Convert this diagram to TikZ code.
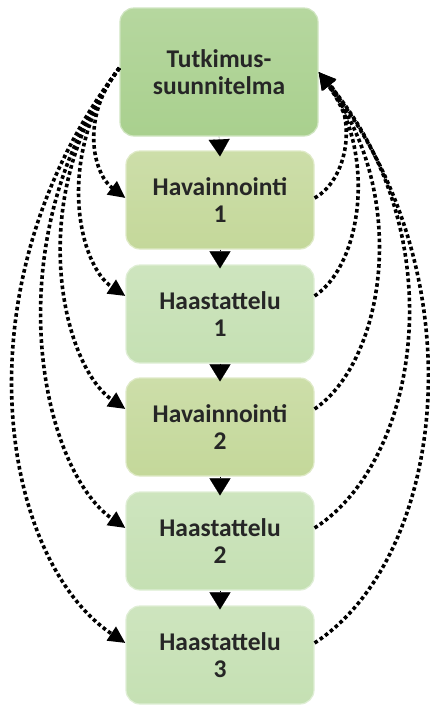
\documentclass[tikz,border=0pt]{standalone}
\usepackage{fontspec}
\setmainfont{Carlito}
\usetikzlibrary{arrows.meta,calc}

\definecolor{plangreen}{HTML}{A9D08E}
\definecolor{obsgreen}{HTML}{C4D89A}
\definecolor{intgreen}{HTML}{C5E0B3}

\begin{document}
\begin{tikzpicture}[x=1pt,y=1pt,
  stagebox/.style={rounded corners=14pt, minimum width=188pt, minimum height=98pt,
    inner sep=0pt, align=center, text=black!85,
    font=\bfseries\fontsize{25.5}{27}\selectfont,
    top color=#1!85!white, bottom color=#1, draw=#1!55!white, line width=1.2pt},
  loop/.style={line width=3.6pt, dash pattern=on 3.6pt off 2.8pt, black,
    -{Triangle[length=17pt,width=16pt]}},
  down/.style={-{Triangle[length=17pt,width=21pt]}, line width=0.1pt, black}]

\useasboundingbox (0,0) rectangle (430,-705);

% research plan and the five field-work stages
\node[stagebox=plangreen, minimum width=198pt, minimum height=128pt] (T) at (219,-72) {Tutkimus-\\suunnitelma};
\node[stagebox=obsgreen] (H1)  at (220,-200) {Havainnointi\\1};
\node[stagebox=intgreen] (HA1) at (220,-314) {Haastattelu\\1};
\node[stagebox=obsgreen] (H2)  at (220,-427) {Havainnointi\\2};
\node[stagebox=intgreen] (HA2) at (220,-541) {Haastattelu\\2};
\node[stagebox=intgreen] (HA3) at (220,-655) {Haastattelu\\3};

\coordinate (pl) at ([yshift=4pt]T.west);
\coordinate (pr) at (T.east);

% plan feeds each stage (left side)
\draw[loop] (pl) .. controls +(-40,-50) and +(-32,24) .. ([yshift=2pt]H1.west);
\draw[loop] (pl) .. controls +(-64,-86) and +(-48,32) .. ([yshift=18pt]HA1.west);
\draw[loop] (pl) .. controls +(-96,-128) and +(-64,44) .. ([yshift=18pt]H2.west);
\draw[loop] (pl) .. controls +(-126,-170) and +(-86,60) .. ([yshift=13pt]HA2.west);
\draw[loop] (pl) .. controls +(-164,-215) and +(-126,84) .. ([yshift=12pt]HA3.west);

% each stage feeds back into the plan (right side)
\draw[loop] ([yshift=2pt]H1.east) .. controls +(33,18) and +(40,-45) .. (pr);
\draw[loop] ([yshift=18pt]HA1.east) .. controls +(48,32) and +(58,-80) .. (pr);
\draw[loop] ([yshift=18pt]H2.east) .. controls +(70,48) and +(92,-124) .. (pr);
\draw[loop] ([yshift=13pt]HA2.east) .. controls +(106,68) and +(136,-162) .. (pr);
\draw[loop] ([yshift=12pt]HA3.east) .. controls +(133,87) and +(160,-200) .. (pr);

% sequence arrows between consecutive boxes
\draw[down] (T.south) -- ([yshift=-6pt]H1.north);
\draw[down] (H1.south) -- ([yshift=-4pt]HA1.north);
\draw[down] (HA1.south) -- ([yshift=-4pt]H2.north);
\draw[down] (H2.south) -- ([yshift=-4pt]HA2.north);
\draw[down] (HA2.south) -- ([yshift=-4pt]HA3.north);
\end{tikzpicture}
\end{document}
